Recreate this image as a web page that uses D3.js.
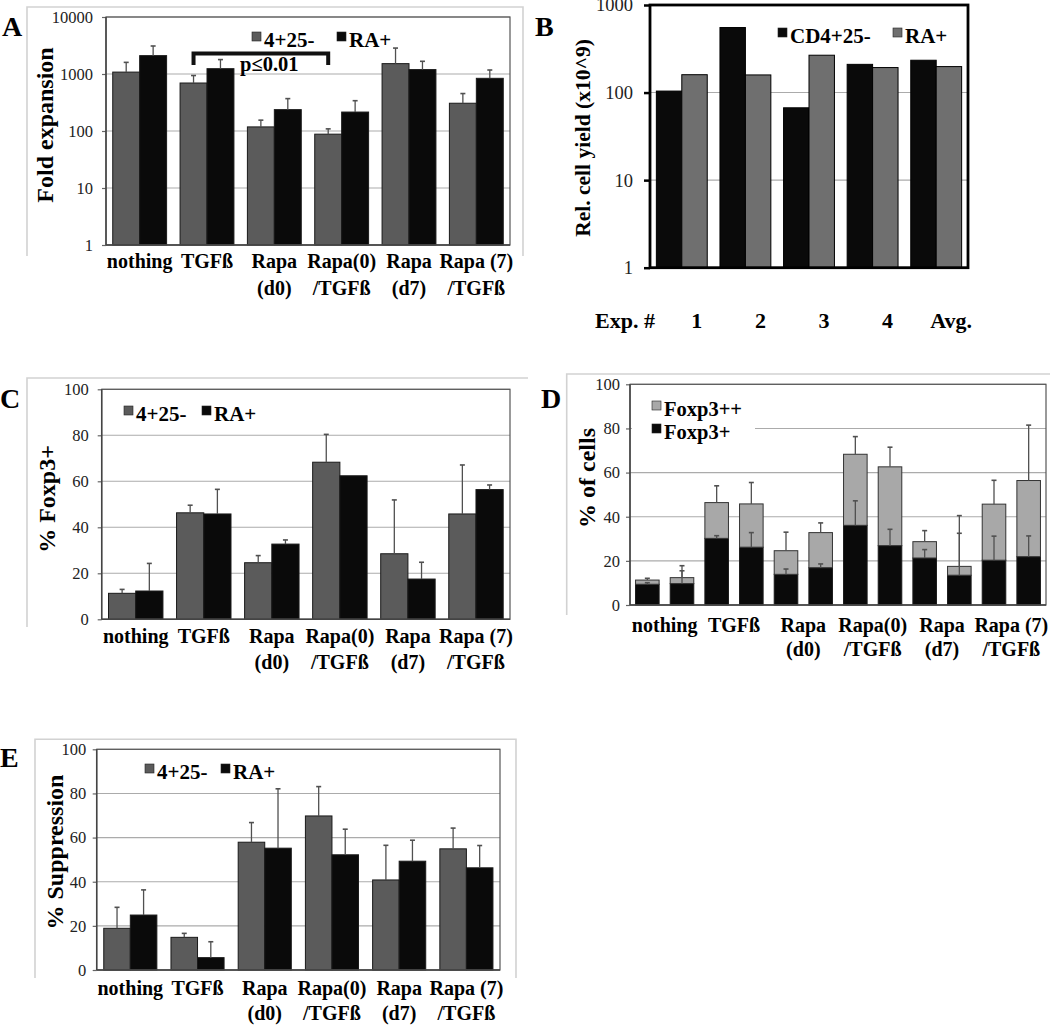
<!DOCTYPE html>
<html><head><meta charset="utf-8">
<script src="https://cdn.jsdelivr.net/npm/d3@7"></script>
<style>body{margin:0;background:#fff}svg{display:block}</style>
</head><body>
<script>
// ---------- DATA ----------
const categories = [["nothing"],["TGFß"],["Rapa","(d0)"],["Rapa(0)","/TGFß"],["Rapa","(d7)"],["Rapa (7)","/TGFß"]];
const seriesNames = ["4+25-","RA+"];

// Panel A: fold expansion (log)
const foldGrey = [1080, 695, 118, 88, 1520, 307];
const foldGreyErr = [520, 245, 37, 21, 1330, 147];
const foldBlack = [2100, 1240, 237, 215, 1195, 840];
const foldBlackErr = [1000, 550, 133, 125, 475, 335];
const foldTicks = [1, 10, 100, 1000, 10000];

// Panel B: relative cell yield (log)
const expLabels = ["1","2","3","4","Avg."];
const bSeriesNames = ["CD4+25-","RA+"];
const yieldCD4 = [104, 553, 67, 210, 234];
const yieldRA = [160, 159, 267, 193, 198];
const yieldTicks = [1, 10, 100, 1000];

// Panel C: % Foxp3+
const foxGrey = [11.3, 46.3, 24.6, 68.3, 28.5, 45.8];
const foxGreyErr = [1.7, 3.3, 3.1, 12.1, 23.4, 21.3];
const foxBlack = [12.3, 45.8, 32.7, 62.4, 17.5, 56.4];
const foxBlackErr = [12.0, 10.7, 1.8, 0, 7.3, 2.0];
const pctTicks = [0, 20, 40, 60, 80, 100];

// Panel D: % of cells, stacked (two bars per category)
const dSeriesNames = ["Foxp3++","Foxp3+"];
const foxp3Plus = [9.4, 9.7, 30.2, 26.2, 13.9, 16.9, 36.1, 26.9, 21.3, 13.5, 20.3, 21.9];
const foxp3PlusErr = [0.7, 5.8, 1.2, 6.6, 2.4, 1.7, 11.1, 7.4, 3.8, 19.0, 10.9, 9.4];
const foxp3PlusPlus = [1.9, 2.7, 16.2, 19.6, 10.7, 15.9, 32.2, 35.7, 7.4, 4.0, 25.4, 34.5];
const foxp3TotalErr = [0.8, 5.4, 7.6, 9.7, 8.4, 4.4, 8.0, 8.9, 5.0, 23.0, 10.8, 25.1];

// Panel E: % suppression
const supGrey = [18.9, 14.8, 57.9, 69.8, 40.8, 54.9];
const supGreyErr = [9.5, 1.8, 8.9, 13.3, 15.7, 9.4];
const supBlack = [24.9, 5.6, 55.2, 52.2, 49.3, 46.3];
const supBlackErr = [11.4, 7.2, 26.9, 11.6, 9.5, 10.1];

// ---------- DRAW ----------
const FONT = "'Liberation Serif','Times New Roman',serif";
const GREY = "#5b5b5b", BLACK = "#0a0a0a", LIGHT = "#a8a8a8", BGREY = "#6f6f6f";
const svg = d3.select("body").append("svg").attr("width",1050).attr("height",1025)
  .style("font-family", FONT);

function frame(pts){
  svg.append("path").attr("d", d3.line()(pts)).attr("fill","none")
    .attr("stroke","#d2d2d2").attr("stroke-width",1.6);
}
function letter(t,x,y){
  svg.append("text").attr("x",x).attr("y",y).text(t).attr("font-size",28).attr("font-weight","bold");
}
function ytitle(t,x,y,size){
  svg.append("text").attr("transform",`translate(${x},${y}) rotate(-90)`).attr("text-anchor","middle")
    .attr("dy","0.35em").attr("font-size",size||24).attr("font-weight","bold").text(t);
}
function legendItem(g,x,y,color,label,size){
  g.append("rect").attr("x",x).attr("y",y).attr("width",9).attr("height",9).attr("fill",color).attr("stroke","#222").attr("stroke-width",0.6);
  g.append("text").attr("x",x+12).attr("y",y+15).attr("font-size",size||21).attr("font-weight","bold").text(label);
}
function errBar(g,cx,y0,y1){
  g.append("line").attr("x1",cx).attr("x2",cx).attr("y1",y0).attr("y2",y1).attr("stroke","#505050").attr("stroke-width",1.3);
  g.append("line").attr("x1",cx-2.5).attr("x2",cx+2.5).attr("y1",y1).attr("y2",y1).attr("stroke","#505050").attr("stroke-width",1.6);
}
function yAxis(g,o){
  g.selectAll(null).data(o.ticks).join("line").attr("x1",o.l).attr("x2",o.r)
    .attr("y1",d=>o.y(d)).attr("y2",d=>o.y(d)).attr("stroke","#ababab").attr("stroke-width",1.1);
  const ax = g.append("g").attr("transform",`translate(${o.l},0)`)
    .call(d3.axisLeft(o.y).tickValues(o.ticks).tickSize(o.tickSize||4).tickPadding(o.tickPad).tickFormat(d3.format("d")));
  ax.select(".domain").remove();
  ax.selectAll("line").attr("stroke",o.tickColor||"#666").attr("stroke-width",o.tickW||1.2);
  ax.selectAll("text").attr("font-family",FONT).attr("font-size",o.tickFont||16.5).attr("fill","#222");
}
function xLabels(g,centers,labels,y0,lh){
  labels.forEach((lines,i)=>{
    const t = g.append("text").attr("text-anchor","middle").attr("font-size",20).attr("font-weight","bold");
    lines.forEach((ln,j)=>t.append("tspan").attr("x",centers[i]).attr("y",y0+j*lh).text(ln));
  });
}
function groupedPanel(o){
  const g = svg.append("g");
  yAxis(g,o);
  const x0 = d3.scaleBand().domain(d3.range(o.series[0].values.length)).range([o.l,o.r]).paddingInner(o.pad).paddingOuter(o.pad/2);
  const x1 = d3.scaleBand().domain(d3.range(o.series.length)).range([0,x0.bandwidth()]);
  const base = o.y(o.y.domain()[0]);
  o.series.forEach((s,si)=>{
    g.selectAll(null).data(s.values).join("rect")
      .attr("x",(d,i)=>x0(i)+x1(si)).attr("width",x1.bandwidth())
      .attr("y",d=>o.y(d)).attr("height",d=>base-o.y(d))
      .attr("fill",s.color).attr("stroke",o.barStroke||"#1a1a1a").attr("stroke-width",1);
  });
  o.series.forEach((s,si)=>{
    if(!s.errs) return;
    s.values.forEach((v,i)=>{
      if(s.errs[i]>0) errBar(g,x0(i)+x1(si)+x1.bandwidth()/2,o.y(v),o.y(v+s.errs[i]));
    });
  });
  if(o.border){
    g.append("rect").attr("x",o.l).attr("y",o.t).attr("width",o.r-o.l).attr("height",base-o.t)
      .attr("fill","none").attr("stroke","#555").attr("stroke-width",1.2);
  }
  g.append("line").attr("x1",o.l).attr("x2",o.l).attr("y1",o.t).attr("y2",base).attr("stroke","#444").attr("stroke-width",1.5);
  g.append("line").attr("x1",o.l).attr("x2",o.r).attr("y1",base).attr("y2",base).attr("stroke","#444").attr("stroke-width",1.5);
  if(o.labels) xLabels(g,d3.range(o.labels.length).map(i=>x0(i)+x0.bandwidth()/2),o.labels,o.labY,o.labLH);
  return {g,x0,x1};
}

// ---- Panel A ----
frame([[27,256],[27,7],[523,7],[523,256]]);
letter("A",2,36);
const yA = d3.scaleLog().domain([1,10000]).range([245,17]);
const pA = groupedPanel({l:106,r:510,t:17,y:yA,ticks:foldTicks,tickPad:9,pad:0.2,border:true,
  series:[{values:foldGrey,errs:foldGreyErr,color:GREY},{values:foldBlack,errs:foldBlackErr,color:BLACK}],
  labels:categories,labY:268,labLH:27});
ytitle("Fold expansion",45,125);
legendItem(svg,252,32,GREY,seriesNames[0]);
legendItem(svg,337,32,BLACK,seriesNames[1]);
{
  const xa = pA.x0(1)+pA.x1(0)+pA.x1.bandwidth()/2, xb = pA.x0(3)+pA.x1(0)+pA.x1.bandwidth()/2;
  svg.append("path").attr("d",`M${xa},65V53.5H${xb}V65`).attr("fill","none").attr("stroke","#111").attr("stroke-width",4);
  svg.append("text").attr("x",240).attr("y",71).attr("font-size",20.5).attr("font-weight","bold").text("p≤0.01");
}

// ---- Panel B ----
letter("B",535,36);
const yB = d3.scaleLog().domain([1,1000]).range([267.7,5]);
const pB = groupedPanel({l:650,r:968,t:5,y:yB,ticks:yieldTicks,tickPad:11,tickSize:6,tickColor:"#000",tickW:2.5,tickFont:18.5,pad:0.2,border:false,
  barStroke:"#000",
  series:[{values:yieldCD4,color:BLACK},{values:yieldRA,color:BGREY}]});
pB.g.append("rect").attr("x",650).attr("y",5).attr("width",318).attr("height",262.7).attr("fill","none").attr("stroke","#000").attr("stroke-width",2.8);
ytitle("Rel. cell yield (x10^9)",582,138,21.5);
legendItem(svg,778,28,BLACK,bSeriesNames[0]);
legendItem(svg,893,28,BGREY,bSeriesNames[1]);
svg.append("text").attr("x",655).attr("y",328).attr("text-anchor","end").attr("font-size",22).attr("font-weight","bold").text("Exp. #");
expLabels.forEach((t,i)=>{
  svg.append("text").attr("x",pB.x0(i)+pB.x0.bandwidth()/2+15).attr("y",328).attr("text-anchor","middle")
    .attr("font-size",22).attr("font-weight","bold").text(t);
});

// ---- Panel C ----
frame([[27,627],[27,378],[528,378]]);
letter("C",0,408);
const yC = d3.scaleLinear().domain([0,100]).range([619.3,389.3]);
groupedPanel({l:101.7,r:510,t:389.3,y:yC,ticks:pctTicks,tickPad:9,pad:0.2,border:true,
  series:[{values:foxGrey,errs:foxGreyErr,color:GREY},{values:foxBlack,errs:foxBlackErr,color:BLACK}],
  labels:categories,labY:643,labLH:26});
ytitle("% Foxp3+",47,499);
legendItem(svg,124,406,GREY,seriesNames[0]);
legendItem(svg,202,406,BLACK,seriesNames[1]);

// ---- Panel D ----
frame([[566.7,615],[566.7,374],[1050,374]]);
letter("D",541,408);
{
  const l=630, r=1046, t=384.3, b=605;
  const y = d3.scaleLinear().domain([0,100]).range([b,t]);
  const g = svg.append("g");
  yAxis(g,{l,r,y,ticks:pctTicks,tickPad:6});
  g.append("rect").attr("x",632).attr("y",392).attr("width",123).attr("height",52).attr("fill","#fff");
  const x = d3.scaleBand().domain(d3.range(foxp3Plus.length)).range([l,r]).paddingInner(0.32).paddingOuter(0.16);
  g.selectAll(null).data(foxp3Plus).join("rect").attr("x",(d,i)=>x(i)).attr("width",x.bandwidth())
    .attr("y",d=>y(d)).attr("height",d=>b-y(d)).attr("fill",BLACK).attr("stroke","#1a1a1a");
  g.selectAll(null).data(foxp3PlusPlus).join("rect").attr("x",(d,i)=>x(i)).attr("width",x.bandwidth())
    .attr("y",(d,i)=>y(foxp3Plus[i]+d)).attr("height",(d,i)=>y(foxp3Plus[i])-y(foxp3Plus[i]+d))
    .attr("fill",LIGHT).attr("stroke","#333");
  foxp3Plus.forEach((v,i)=>{
    const cx = x(i)+x.bandwidth()/2, tot = v+foxp3PlusPlus[i];
    errBar(g,cx,y(tot),y(tot+foxp3TotalErr[i]));
    errBar(g,cx,y(v),y(v+foxp3PlusErr[i]));
  });
  g.append("rect").attr("x",l).attr("y",t).attr("width",r-l).attr("height",b-t).attr("fill","none").attr("stroke","#555").attr("stroke-width",1.2);
  g.append("line").attr("x1",l).attr("x2",l).attr("y1",t).attr("y2",b).attr("stroke","#444").attr("stroke-width",1.5);
  g.append("line").attr("x1",l).attr("x2",r).attr("y1",b).attr("y2",b).attr("stroke","#444").attr("stroke-width",1.5);
  const centers = categories.map((c,i)=>(x(2*i)+x(2*i+1)+x.bandwidth())/2);
  xLabels(g,centers,categories,632,24);
  legendItem(g,652,401,LIGHT,dSeriesNames[0],20.5);
  legendItem(g,652,424,BLACK,dSeriesNames[1],20.5);
}
ytitle("% of cells",587,478);

// ---- Panel E ----
frame([[35,978],[35,739.3],[516,739.3],[516,978]]);
letter("E",0,767);
const yE = d3.scaleLinear().domain([0,100]).range([970,749.3]);
groupedPanel({l:96.7,r:500,t:749.3,y:yE,ticks:pctTicks,tickPad:6.5,pad:0.21,border:true,
  series:[{values:supGrey,errs:supGreyErr,color:GREY},{values:supBlack,errs:supBlackErr,color:BLACK}],
  labels:categories,labY:995,labLH:25});
ytitle("% Suppression",55,852);
legendItem(svg,145,764,GREY,seriesNames[0]);
legendItem(svg,221,764,BLACK,seriesNames[1]);
</script>
</body></html>
